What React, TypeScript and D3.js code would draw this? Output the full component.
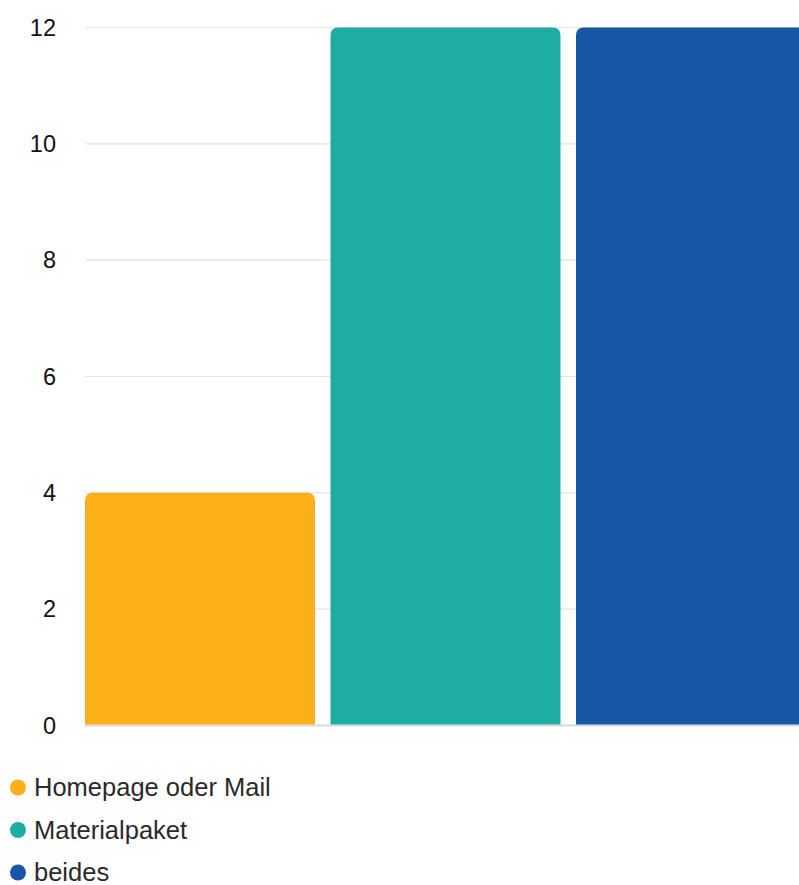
import React from "react";
import * as d3 from "d3";

const categories = ["Homepage oder Mail", "Materialpaket", "beides"];
const values = [4, 12, 12];
const colors = ["#FAB016", "#1EADA5", "#1656A5"];
const yTicks = [0, 2, 4, 6, 8, 10, 12];

const W = 799;
const H = 885;

function topRounded(x: number, y: number, w: number, h: number, r: number) {
  const rr = Math.min(r, h, w / 2);
  return `M${x},${y + h}V${y + rr}Q${x},${y} ${x + rr},${y}H${x + w - rr}Q${x + w},${y} ${x + w},${y + rr}V${y + h}Z`;
}

export default function App() {
  const x = d3.scaleBand<string>().domain(categories).range([85, 806]).paddingInner(15.5 / 245.5).paddingOuter(0);
  const y = d3.scaleLinear().domain([0, 12]).range([725.5, 27.5]);
  const font = "'Liberation Sans', Arial, sans-serif";
  return (
    <svg width={W} height={H} style={{ position: "absolute", left: 0, top: 0 }}>
      <rect width={W} height={H} fill="#fff" />
      {yTicks.map((t) => (
        <g key={t}>
          <line x1={85} x2={W} y1={y(t)} y2={y(t)} stroke={t === 0 ? "#d9d9d9" : "#e3e3e3"} strokeWidth={t === 0 ? 2 : 1.2} />
          <text x={56} y={y(t)} dy="0.35em" textAnchor="end" fontFamily={font} fontSize={23.5} fill="#111">
            {t}
          </text>
        </g>
      ))}
      {categories.map((c, i) => {
        const bx = x(c)!;
        const bw = x.bandwidth();
        const top = y(values[i]);
        return <path key={c} d={topRounded(bx, top, bw, y(0) - top - 1, 8)} fill={colors[i]} />;
      })}
      {categories.map((c, i) => (
        <g key={c} transform={`translate(0, ${787.5 + i * 42.5})`}>
          <circle cx={18} cy={0} r={8} fill={colors[i]} />
          <text x={34} y={0} dy="0.35em" fontFamily={font} fontSize={25.5} fill="#2a2a2a">
            {c}
          </text>
        </g>
      ))}
    </svg>
  );
}
